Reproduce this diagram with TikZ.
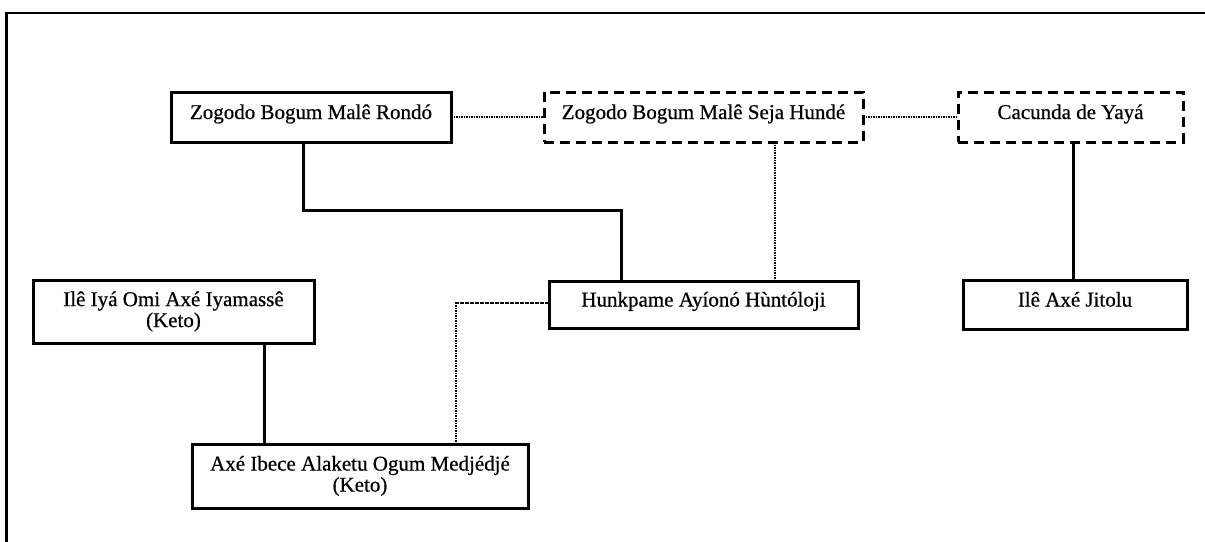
\documentclass[tikz,border=0pt]{standalone}
\usepackage{fontspec}
\setmainfont{Liberation Serif}
\newfontfamily\heavyserif{Liberation Serif}[FakeBold=0.6]
\begin{document}
\begin{tikzpicture}[x=1pt,y=-1pt,
  every node/.style={inner sep=0pt,outer sep=0pt,font=\heavyserif\fontsize{21}{21}\selectfont},
  box/.style={draw,line width=3pt,align=center},
  onebox/.style={box,text height=15pt,text depth=11pt},
  dbox/.style={onebox,dash pattern=on 10pt off 6pt},
  solidcon/.style={line width=3pt},
  dotcon/.style={line width=2.6pt,dash pattern=on 1.6pt off 0.9pt},
  frameline/.style={line width=2.6pt}]
\useasboundingbox (0,0) rectangle (1205,541);
\draw[frameline] (6.5,545) -- (6.5,13) -- (1205,13);
% nodes
\node[onebox,minimum width=280pt,minimum height=50pt] (A) at (311,117) {Zogodo Bogum Malê Rondó};
\node[dbox,minimum width=319pt,minimum height=50pt] (B) at (703.5,117) {Zogodo Bogum Malê Seja Hundé};
\node[dbox,minimum width=225pt,minimum height=50pt] (C) at (1070.5,117) {Cacunda de Yayá};
\node[onebox,minimum width=309pt,minimum height=47pt] (H) at (703.5,304.5) {Hunkpame Ayíonó Hùntóloji};
\node[onebox,minimum width=224pt,minimum height=49pt] (J) at (1075,304.5) {Ilê Axé Jitolu};
\node[box,minimum width=281pt,minimum height=63pt] (I) at (173.5,311.5) {Ilê Iyá Omi Axé Iyamassê\\(Keto)};
\node[box,minimum width=336pt,minimum height=64pt] (X) at (360,476) {Axé Ibece Alaketu Ogum Medjédjé\\(Keto)};
% helper coordinates
\coordinate (j1) at (303,210);
\coordinate (j2) at (621,210);
\coordinate (d1) at (775,200);
\coordinate (c1) at (1073,200);
\coordinate (i1) at (264,400);
\coordinate (h1) at (456,303);
% connectors
\draw[dotcon] (A.east) -- (B.west);
\draw[dotcon] (B.east) -- (C.west);
\draw[solidcon] (A.south -| j1) -- (j1) -- (j2) -- (j2 |- H.north);
\draw[dotcon] (B.south -| d1) -- (d1 |- H.north);
\draw[solidcon] (C.south -| c1) -- (c1 |- J.north);
\draw[solidcon] (I.south -| i1) -- (i1 |- X.north);
\draw[dotcon] (H.west |- h1) -- (h1) -- (h1 |- X.north);
\end{tikzpicture}
\end{document}
